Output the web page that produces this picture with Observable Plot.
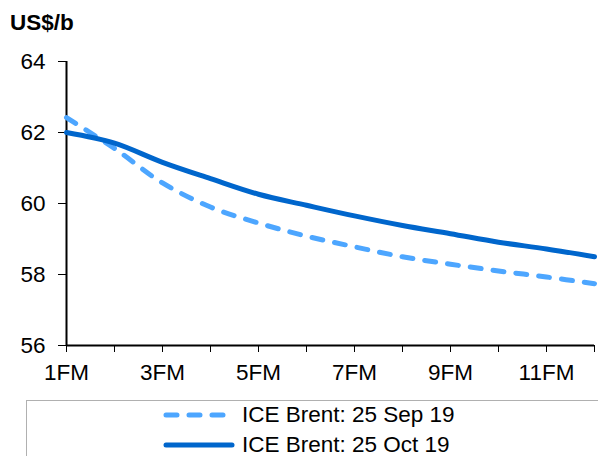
<!DOCTYPE html>
<html>
<head>
<meta charset="utf-8">
<script src="https://cdn.jsdelivr.net/npm/d3@7"></script>
<script src="https://cdn.jsdelivr.net/npm/@observablehq/plot@0.6"></script>
<style>
  html, body { margin: 0; padding: 0; background: #fff; }
  body { width: 598px; height: 456px; position: relative; overflow: hidden; font-family: "Liberation Sans", Arial, sans-serif; }
  #chart { position: absolute; left: 0; top: 0; }
  #unit { position: absolute; left: 10px; top: 10px; font-weight: bold; font-size: 22.5px; color: #000; z-index: 2; }
  #chart svg text { font-size: 22.5px; }
  #legend { position: absolute; left: 26px; top: 400px; width: 600px; height: 56px; border: 1.5px solid #b0b0b0; border-bottom: none; box-sizing: border-box; }
  .row { position: absolute; left: 135px; display: flex; align-items: center; font-size: 22.5px; line-height: 18px; color: #000; height: 18px; }
  .row span { display: inline-block; line-height: 18px; height: 18px; }
  .row svg { margin-right: 4px; }
</style>
</head>
<body>
<div id="chart"></div>
<div id="unit">US$/b</div>
<div id="legend"></div>
<script>
const months = [1, 2, 3, 4, 5, 6, 7, 8, 9, 10, 11, 12];
const monthLabels = ["1FM", "2FM", "3FM", "4FM", "5FM", "6FM", "7FM", "8FM", "9FM", "10FM", "11FM", "12FM"];
const sep19 = [62.42, 61.55, 60.58, 59.9, 59.45, 59.08, 58.78, 58.5, 58.29, 58.1, 57.93, 57.74];
const oct19 = [62.0, 61.7, 61.16, 60.7, 60.26, 59.95, 59.65, 59.38, 59.15, 58.91, 58.72, 58.5];
const seriesNames = ["ICE Brent: 25 Sep 19", "ICE Brent: 25 Oct 19"];
const yTicks = [56, 58, 60, 62, 64];
const colors = ["#4da6ff", "#0066cc"];

const data = [];
months.forEach((m, i) => {
  data.push({month: m, value: sep19[i], series: seriesNames[0]});
  data.push({month: m, value: oct19[i], series: seriesNames[1]});
});

const chart = Plot.plot({
  width: 598,
  height: 398,
  marginLeft: 66,
  marginRight: 4,
  marginTop: 61,
  marginBottom: 53,
  style: {fontFamily: "'Liberation Sans', Arial, sans-serif", fontSize: "22.5px", color: "#000", background: "#fff"},
  x: {domain: [1, 12]},
  y: {domain: [56, 64]},
  marks: [
    Plot.axisY({ticks: yTicks, tickSize: 8, tickPadding: 13, label: null, stroke: "#000"}),
    Plot.axisX({ticks: months, tickSize: 7, tickPadding: 12, label: null,
      tickFormat: (d) => (d % 2 === 1 ? monthLabels[d - 1] : "")}),
    Plot.ruleX([1], {stroke: "#000", strokeWidth: 2}),
    Plot.ruleY([56], {stroke: "#000", strokeWidth: 2}),
    Plot.line(data.filter(d => d.series === seriesNames[0]), {
      x: "month", y: "value", stroke: colors[0], strokeWidth: 5,
      strokeDasharray: "11,12", strokeLinecap: "round", curve: "catmull-rom"
    }),
    Plot.line(data.filter(d => d.series === seriesNames[1]), {
      x: "month", y: "value", stroke: colors[1], strokeWidth: 5, curve: "catmull-rom"
    })
  ]
});
document.getElementById("chart").appendChild(chart);

const legend = document.getElementById("legend");
const rowTops = [5, 35];
seriesNames.forEach((name, i) => {
  const row = document.createElement("div");
  row.className = "row";
  row.style.top = rowTops[i] + "px";
  const dash = i === 0 ? 'stroke-dasharray="11,12"' : "";
  row.innerHTML = `<svg width="76" height="18"><line x1="4" x2="70" y1="9" y2="9" stroke="${colors[i]}" stroke-width="5" stroke-linecap="round" ${dash}/></svg><span>${name}</span>`;
  legend.appendChild(row);
});
</script>
</body>
</html>
